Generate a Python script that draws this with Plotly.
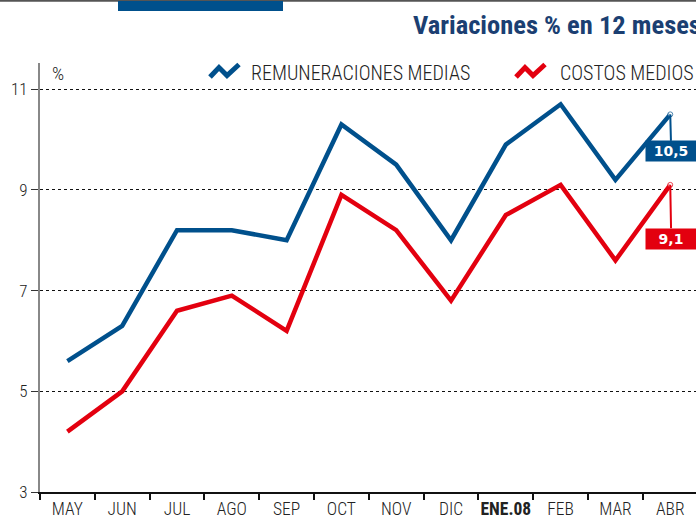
import plotly.graph_objects as go

months = ["MAY", "JUN", "JUL", "AGO", "SEP", "OCT", "NOV", "DIC", "ENE.08", "FEB", "MAR", "ABR"]
tick_text = ["MAY", "JUN", "JUL", "AGO", "SEP", "OCT", "NOV", "DIC", "<b>ENE.08</b>", "FEB", "MAR", "ABR"]
remuneraciones = [5.6, 6.3, 8.2, 8.2, 8.0, 10.3, 9.5, 8.0, 9.9, 10.7, 9.2, 10.5]
costos = [4.2, 5.0, 6.6, 6.9, 6.2, 8.9, 8.2, 6.8, 8.5, 9.1, 7.6, 9.1]
y_ticks = [3, 5, 7, 9, 11]

BLUE = "#00508c"
RED = "#e3000f"
TITLE_BLUE = "#1b3f72"
FONT = "Roboto Condensed, Liberation Sans Narrow, Roboto, sans-serif"

W, H = 696, 520
L, R, T, B = 40, 0, 63, 28
pw, ph = W - L - R, H - T - B

def px(x):
    return (x - L) / pw

def py(y):
    return (H - B - y) / ph

fig = go.Figure()
sizes = [0] * (len(months) - 1) + [5]
for name, vals, col in [("REMUNERACIONES MEDIAS", remuneraciones, BLUE), ("COSTOS MEDIOS", costos, RED)]:
    fig.add_trace(go.Scatter(
        x=months, y=vals, mode="lines+markers", name=name,
        line=dict(color=col, width=4.5),
        marker=dict(size=sizes, color="white", line=dict(color=col, width=1)),
        showlegend=False, cliponaxis=False,
    ))

shapes = []
# top decoration
shapes.append(dict(type="line", xref="paper", yref="paper", x0=px(0), x1=px(696), y0=py(0.8), y1=py(0.8),
                   line=dict(color="#555555", width=2)))
shapes.append(dict(type="rect", xref="paper", yref="paper", x0=px(118), x1=px(283), y0=py(11), y1=py(1),
                   fillcolor="#00508c", line=dict(width=0)))

# legend icons
def zig(x0):
    pts = [(x0, 77), (x0 + 9, 67.5), (x0 + 17, 75.5), (x0 + 29, 64.5)]
    return "M " + " L ".join(f"{px(a):.5f},{py(b):.5f}" for a, b in pts)

shapes.append(dict(type="path", xref="paper", yref="paper", path=zig(210), line=dict(color=BLUE, width=5)))
shapes.append(dict(type="path", xref="paper", yref="paper", path=zig(516), line=dict(color=RED, width=5)))

annotations = [
    dict(text="<b>Variaciones % en 12 meses</b>", xref="paper", yref="paper", x=px(703), y=py(25),
         xanchor="right", yanchor="middle", showarrow=False, font=dict(family=FONT, size=26.5, color=TITLE_BLUE)),
    dict(text="%", xref="paper", yref="paper", x=px(50), y=py(73), xanchor="left", yanchor="middle",
         showarrow=False, font=dict(family=FONT, size=19, color="#222222", weight=300)),
    dict(text="REMUNERACIONES MEDIAS", xref="paper", yref="paper", x=px(249), y=py(73), xanchor="left",
         yanchor="middle", showarrow=False, font=dict(family=FONT, size=20, color="#222222", weight=300)),
    dict(text="COSTOS MEDIOS", xref="paper", yref="paper", x=px(558), y=py(73), xanchor="left",
         yanchor="middle", showarrow=False, font=dict(family=FONT, size=20, color="#222222", weight=300)),
    dict(text="<b>10,5</b>", x=months[-1], y=remuneraciones[-1], ax=1, ay=37, showarrow=True, arrowhead=0,
         arrowwidth=2, arrowcolor=BLUE, bgcolor=BLUE, borderpad=2, width=46,
         font=dict(family="DejaVu Sans, Arial", size=14, color="white")),
    dict(text="<b>9,1</b>", x=months[-1], y=costos[-1], ax=1, ay=54, showarrow=True, arrowhead=0,
         arrowwidth=2, arrowcolor=RED, bgcolor=RED, borderpad=2, width=46,
         font=dict(family="DejaVu Sans, Arial", size=14, color="white")),
]

fig.update_layout(
    width=W, height=H,
    margin=dict(l=L, r=R, t=T, b=B, autoexpand=False),
    paper_bgcolor="white", plot_bgcolor="white",
    font=dict(family=FONT, size=17, color="#222222"),
    shapes=shapes, annotations=annotations,
    xaxis=dict(
        type="category", range=[-0.5, 11.47], tickmode="array", tickvals=months, ticktext=tick_text,
        tickangle=0, showgrid=False, showline=True, linecolor="#111111", linewidth=2,
        ticks="outside", tickson="boundaries", ticklen=6, tickcolor="#111111", tickwidth=1.5,
        ticklabelstandoff=0, automargin=False,
        tickfont=dict(family=FONT, size=17.5, color="#222222", weight=300), zeroline=False,
    ),
    yaxis=dict(
        range=[3, 11.52], tickvals=y_ticks, showgrid=True, gridcolor="#111111", griddash="dot", gridwidth=1,
        showline=True, linecolor="#888888", linewidth=2, ticks="outside", ticklen=7, tickcolor="#333333",
        tickwidth=1, automargin=False,
        tickfont=dict(family=FONT, size=17, color="#222222", weight=300), zeroline=False,
    ),
)

fig.write_html("out.html", config={"displayModeBar": False},
               post_script="document.body.style.margin='0';document.body.style.overflow='hidden';")
